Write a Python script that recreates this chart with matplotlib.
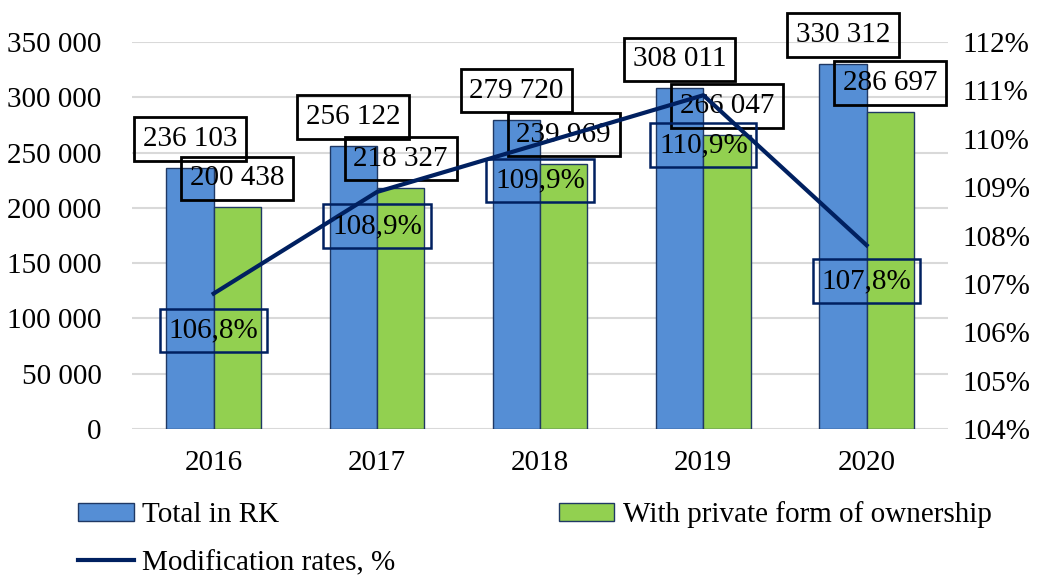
import matplotlib
matplotlib.use("Agg")
import matplotlib.pyplot as plt
import numpy as np
from matplotlib.ticker import FuncFormatter

years = ["2016", "2017", "2018", "2019", "2020"]
total_rk = [236103, 256122, 279720, 308011, 330312]
private = [200438, 218327, 239969, 266047, 286697]
rates = [106.8, 108.9, 109.9, 110.9, 107.8]

plt.rcParams["font.family"] = ["Liberation Serif", "DejaVu Serif"]
FS = 21

BLUE = "#558ED5"
GREEN = "#92D050"
EDGE = "#1F3864"
NAVY = "#002060"

fig = plt.figure(figsize=(10.42, 5.79), dpi=100)
ax = fig.add_axes([0.1267, 0.259, 0.7833, 0.6684])
ax2 = ax.twinx()

x = np.arange(len(years))
w = 0.29
b1 = ax.bar(x - w / 2, total_rk, w, color=BLUE, edgecolor=EDGE, linewidth=1, label="Total in RK", zorder=3)
b2 = ax.bar(x + w / 2, private, w, color=GREEN, edgecolor=EDGE, linewidth=1,
            label="With private form of ownership", zorder=3)

ax.set_xlim(-0.5, len(years) - 0.5)
ax.set_ylim(0, 350000)
ax.set_yticks(np.arange(0, 350001, 50000))
ax.yaxis.set_major_formatter(FuncFormatter(lambda v, p: f"{int(v):,}".replace(",", " ")))
ax.grid(axis="y", color="#D9D9D9", linewidth=1.5, zorder=0)
ax.set_axisbelow(True)
ax.set_xticks(x)
ax.set_xticklabels(years)
for s in ["top", "right", "left", "bottom"]:
    ax.spines[s].set_visible(False)
    ax2.spines[s].set_visible(False)
ax.tick_params(axis="both", length=0, labelsize=FS)
ax.tick_params(axis="y", pad=22)
ax.tick_params(axis="x", pad=15)

ln, = ax2.plot(x, rates, color=NAVY, linewidth=3, label="Modification rates, %", zorder=4)
ax2.set_ylim(104, 112)
ax2.set_yticks(np.arange(104, 112.01, 1))
ax2.yaxis.set_major_formatter(FuncFormatter(lambda v, p: f"{int(round(v))}%"))
ax2.tick_params(axis="y", length=0, labelsize=FS, pad=10)

box_k = dict(boxstyle="square,pad=0.3", facecolor="none", edgecolor="black", linewidth=2)
box_n = dict(boxstyle="square,pad=0.3", facecolor="none", edgecolor=NAVY, linewidth=1.8)

def fmt(v):
    return f"{v:,}".replace(",", " ")

for i in range(len(years)):
    ax.annotate(fmt(total_rk[i]), (x[i] - w / 2, total_rk[i]), xytext=(0, 29),
                textcoords="offset pixels", ha="center", va="center", fontsize=FS,
                bbox=box_k, zorder=5)
    ax.annotate(fmt(private[i]), (x[i] + w / 2, private[i]), xytext=(0, 29),
                textcoords="offset pixels", ha="center", va="center", fontsize=FS,
                bbox=box_k, zorder=5)

rate_offsets = [-37, -34, -37, -50, -36]
for i in range(len(years)):
    ax2.annotate(f"{rates[i]:.1f}%".replace(".", ","), (x[i], rates[i]), xytext=(0, rate_offsets[i]),
                 textcoords="offset pixels", ha="center", va="center", fontsize=FS,
                 bbox=box_n, zorder=5)

fig.legend([b1, ln, b2], ["Total in RK", "Modification rates, %", "With private form of ownership"],
           ncol=2, loc="upper left", bbox_to_anchor=(0.075, 0.134), frameon=False,
           fontsize=FS, handlelength=1.9, handleheight=0.6, handletextpad=0.3,
           columnspacing=5.6, labelspacing=0.75, borderaxespad=0, borderpad=0)

fig.savefig("out.png", dpi=100)
